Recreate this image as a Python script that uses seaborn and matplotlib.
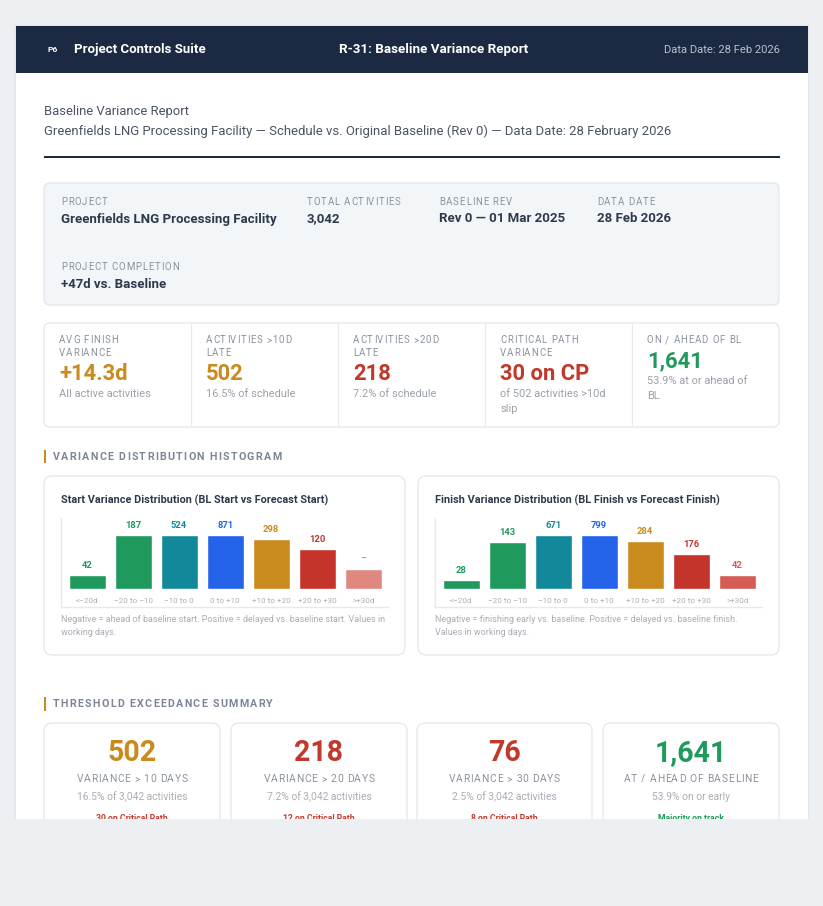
import matplotlib
matplotlib.use("Agg")
import matplotlib.pyplot as plt
import seaborn as sns
import pandas as pd
from matplotlib.patches import FancyBboxPatch, Rectangle
from matplotlib.font_manager import FontProperties, findfont
from matplotlib import ft2font

sns.set_theme(style="white")
plt.rcParams['font.family'] = ['Roboto', 'DejaVu Sans']

# ---------------- data ----------------
categories = ["<\u221220d", "\u221220 to \u221210", "\u221210 to 0", "0 to +10",
              "+10 to +20", "+20 to +30", ">+30d"]
start_labels = ["42", "187", "524", "871", "298", "120", "\u2013"]
start_heights = [25.5, 100, 100, 100, 92.5, 74, 36.6]      # bar heights as drawn (% of max)
finish_labels = ["28", "143", "671", "799", "284", "176", "42"]
finish_heights = [16, 87, 100, 100, 88.8, 64.6, 25.5]

start_colors = ["#1f9a5c", "#1f9a5c", "#12899a", "#2563eb", "#c98b1e", "#c5342b", "#e0877f"]
finish_colors = ["#1f9a5c", "#1f9a5c", "#12899a", "#2563eb", "#c98b1e", "#c5342b", "#d35c55"]

project_fields = [("PROJECT", "Greenfields LNG Processing Facility"),
                  ("TOTAL ACTIVITIES", "3,042"),
                  ("BASELINE REV", "Rev 0 \u2014 01 Mar 2025"),
                  ("DATA DATE", "28 Feb 2026")]
completion_field = ("PROJECT COMPLETION", "+47d vs. Baseline")

kpi_labels = [["AVG FINISH", "VARIANCE"], ["ACTIVITIES >10D", "LATE"], ["ACTIVITIES >20D", "LATE"],
              ["CRITICAL PATH", "VARIANCE"], ["ON / AHEAD OF BL"]]
kpi_values = ["+14.3d", "502", "218", "30 on CP", "1,641"]
kpi_subs = [["All active activities"], ["16.5% of schedule"], ["7.2% of schedule"],
            ["of 502 activities >10d", "slip"], ["53.9% at or ahead of", "BL"]]
kpi_colors = ["#c98b1e", "#c98b1e", "#c0392b", "#c0392b", "#1f9a5c"]

thr_values = ["502", "218", "76", "1,641"]
thr_labels = ["VARIANCE > 10 DAYS", "VARIANCE > 20 DAYS", "VARIANCE > 30 DAYS", "AT / AHEAD OF BASELINE"]
thr_subs = ["16.5% of 3,042 activities", "7.2% of 3,042 activities", "2.5% of 3,042 activities",
            "53.9% on or early"]
thr_notes = ["30 on Critical Path", "12 on Critical Path", "8 on Critical Path", "Majority on track"]
thr_colors = ["#c98b1e", "#c0392b", "#c0392b", "#1f9a5c"]
thr_note_colors = ["#c0392b", "#c0392b", "#c0392b", "#1f9a5c"]

# ---------------- figure helpers ----------------
W, H = 823, 906
DPI = 100
fig = plt.figure(figsize=(W / DPI, H / DPI), dpi=DPI)
fig.patch.set_facecolor("#edf0f3")
bg = fig.add_axes([0, 0, 1, 1])
bg.set_xlim(0, W)
bg.set_ylim(H, 0)
bg.axis("off")

try:
    NO_HINT = ft2font.LoadFlags.NO_HINTING
except AttributeError:
    NO_HINT = ft2font.LOAD_NO_HINTING
_fonts = {}

def pt(px):
    return px * 72 / DPI

def advance(ch, size_px, weight):
    prop = FontProperties(family=plt.rcParams['font.family'], weight=weight)
    path = findfont(prop)
    if path not in _fonts:
        _fonts[path] = ft2font.FT2Font(path)
    f = _fonts[path]
    f.set_size(100, 72)
    g = f.load_char(ord(ch), flags=NO_HINT)
    return g.linearHoriAdvance / 65536 * size_px / 100.0

def txt(x, y, s, size, color, weight="normal", ha="left", va="center", spacing=0.0, z=5):
    if spacing == 0:
        bg.text(x, y, s, fontsize=pt(size), color=color, fontweight=weight, ha=ha, va=va, zorder=z)
        return
    pens = []
    pen = 0.0
    for ch in s:
        pens.append(pen)
        pen += advance(ch, size, weight) + spacing
    total = pen - spacing
    if ha == "center":
        x0 = x - total / 2
    elif ha == "right":
        x0 = x - total
    else:
        x0 = x
    for ch, p in zip(s, pens):
        if ch != " ":
            bg.text(x0 + p, y, ch, fontsize=pt(size), color=color, fontweight=weight,
                    ha="left", va=va, zorder=z)

def box(x0, y0, x1, y1, fc="white", ec="#e3e7eb", r=6, lw=0.9, z=1):
    bg.add_patch(FancyBboxPatch((x0 + r, y0 + r), (x1 - x0) - 2 * r, (y1 - y0) - 2 * r,
                                boxstyle=f"round,pad={r}", fc=fc, ec=ec, lw=lw, zorder=z))

def px_axes(x0, y0, x1, y1):
    return fig.add_axes([x0 / W, 1 - y1 / H, (x1 - x0) / W, (y1 - y0) / H])

LABEL_C = "#8a929e"

# ---------------- page ----------------
bg.add_patch(Rectangle((14.5, 24.5), 795, 800, fc="#e3e7eb", ec="none", zorder=0))
bg.add_patch(Rectangle((16, 26), 792, 800, fc="white", ec="none", zorder=0.5))
bg.add_patch(Rectangle((16, 26), 792, 47, fc="#1b2a42", ec="none", zorder=1))
txt(48, 50, "P6", 8.5, "white", weight="bold")
txt(74, 49.5, "Project Controls Suite", 13.2, "white", weight="bold")
txt(433.5, 49.5, "R-31: Baseline Variance Report", 13.4, "white", weight="bold", ha="center")
txt(780, 50, "Data Date: 28 Feb 2026", 11.3, "#b8c0cc", ha="right")

txt(44, 111, "Baseline Variance Report", 13, "#4a5462")
txt(44, 131, "Greenfields LNG Processing Facility \u2014 Schedule vs. Original Baseline (Rev 0) \u2014 Data Date: 28 February 2026",
    13.1, "#4a5462")
bg.add_patch(Rectangle((44, 156), 736, 2, fc="#1b2a42", ec="none", zorder=2))

# project info box
box(44, 183, 779, 305, fc="#f3f6f9", ec="#e3e7eb")
for (lab, val), x in zip(project_fields, [61, 307, 439, 597]):
    txt(x, 202, lab, 9.6, LABEL_C, spacing=0.85)
    txt(x, 219, val, 13.2, "#2e3a4c", weight="bold")
txt(61, 267, completion_field[0], 9.6, LABEL_C, spacing=0.85)
txt(61, 284, completion_field[1], 13.2, "#2e3a4c", weight="bold")

# KPI strip
box(44, 323, 779, 427, fc="white", ec="#e3e7eb")
cell_x = [44, 191, 338, 485, 632]
for i in range(1, 5):
    bg.plot([cell_x[i], cell_x[i]], [324, 426], color="#e6e9ed", lw=0.9, zorder=2)
for i in range(5):
    x = cell_x[i] + 15
    for j, l in enumerate(kpi_labels[i]):
        txt(x, 340 + 13 * j, l, 9.6, LABEL_C, spacing=0.85)
    vy = 374 if len(kpi_labels[i]) == 2 else 361
    txt(x, vy, kpi_values[i], 22, kpi_colors[i], weight="bold")
    sy = vy + 20
    for j, s in enumerate(kpi_subs[i]):
        txt(x, sy + 15 * j, s, 11, "#9aa1ab")

# section header 1
bg.add_patch(Rectangle((44, 450), 2.5, 13, fc="#c98b1e", ec="none", zorder=2))
txt(53, 456.5, "VARIANCE DISTRIBUTION HISTOGRAM", 10.6, "#7d8694", weight="bold", spacing=1.3)

# chart cards
def chart(offset, title, heights, labels, colors, caption):
    box(44 + offset, 476, 405 + offset, 655, fc="white", ec="#e3e7eb", r=8)
    txt(61 + offset, 500, title, 10.9, "#2e3a4c", weight="bold")
    ax = px_axes(61 + offset, 518, 388 + offset, 607)
    df = pd.DataFrame({"cat": categories, "h": heights})
    sns.barplot(data=df, x="cat", y="h", hue="cat", palette=colors, legend=False,
                ax=ax, width=0.8, saturation=1, order=categories, hue_order=categories)
    ax.set_xlim(-0.567, 6.537)
    ax.set_ylim(-34.1, 131.7)
    ax.set_facecolor("none")
    ax.set_xticks([])
    ax.set_yticks([])
    ax.set_xlabel("")
    ax.set_ylabel("")
    for s in ["top", "right"]:
        ax.spines[s].set_visible(False)
    for s in ["left", "bottom"]:
        ax.spines[s].set_color("#e6e9ed")
        ax.spines[s].set_linewidth(1)
    for i, (h, lab) in enumerate(zip(heights, labels)):
        ax.annotate(lab, (i, h), xytext=(0, pt(9.5)), textcoords="offset points",
                    ha="center", va="center", fontsize=pt(9.4), fontweight="bold", color=colors[i])
        ax.annotate(categories[i], (i, 0), xytext=(0, -pt(12.6)), textcoords="offset points",
                    ha="center", va="center", fontsize=pt(8.2), color="#aab0b8")
    for j, line in enumerate(caption):
        txt(61 + offset, 619.5 + 13.3 * j, line, 9, "#a8adb5")

chart(0, "Start Variance Distribution (BL Start vs Forecast Start)", start_heights, start_labels,
      start_colors, ["Negative = ahead of baseline start. Positive = delayed vs. baseline start. Values in",
                     "working days."])
chart(374, "Finish Variance Distribution (BL Finish vs Forecast Finish)", finish_heights, finish_labels,
      finish_colors, ["Negative = finishing early vs. baseline. Positive = delayed vs. baseline finish.",
                      "Values in working days."])

# section header 2
bg.add_patch(Rectangle((44, 697), 2.5, 14, fc="#c98b1e", ec="none", zorder=2))
txt(53, 704, "THRESHOLD EXCEEDANCE SUMMARY", 10.6, "#7d8694", weight="bold", spacing=1.3)

cards = [(44, 220), (231, 407), (417, 592), (603, 779)]
for (x0, x1), v, l, s, n, c, nc in zip(cards, thr_values, thr_labels, thr_subs, thr_notes,
                                       thr_colors, thr_note_colors):
    box(x0, 723, x1, 880, fc="white", ec="#e3e7eb", r=8)
    cx = (x0 + x1) / 2
    txt(cx, 753, v, 28.5, c, weight="bold", ha="center")
    txt(cx, 779, l, 10.2, LABEL_C, ha="center", spacing=0.75)
    txt(cx, 797, s, 10.2, "#a8adb5", ha="center")
    txt(cx, 818.5, n, 8.6, nc, weight="bold", ha="center")

# page cut-off
bg.add_patch(Rectangle((0, 818.5), W, H - 818.5, fc="#edf0f3", ec="none", zorder=50))

fig.savefig("out.png", dpi=DPI, facecolor=fig.get_facecolor())
